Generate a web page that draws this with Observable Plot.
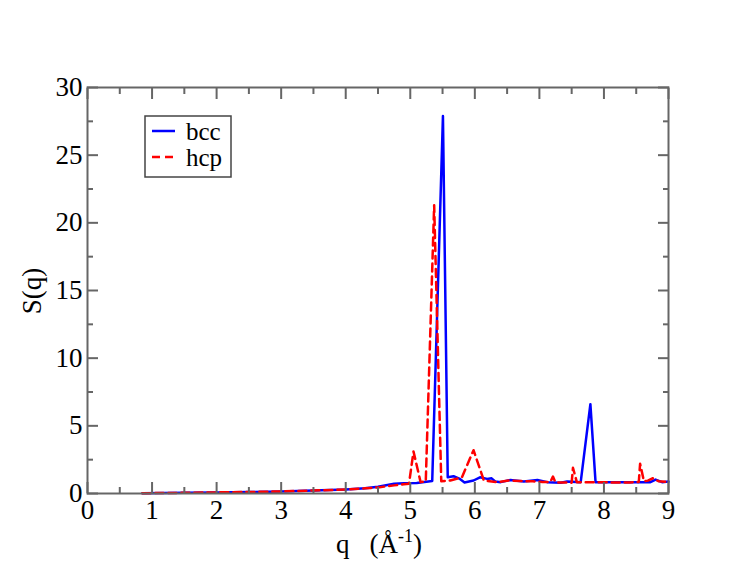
<!DOCTYPE html>
<html>
<head>
<meta charset="utf-8">
<script src="https://cdn.jsdelivr.net/npm/d3@7"></script>
<script src="https://cdn.jsdelivr.net/npm/@observablehq/plot@0.6"></script>
<style>
  html, body { margin: 0; padding: 0; background: white; }
</style>
</head>
<body>
<div id="chart"></div>
<script>
const bccQ = [0.85,1.5,2,2.5,3,3.5,4,4.3,4.5,4.75,4.9,5.1,5.34,5.506,5.58,5.67,5.76,5.84,5.98,6.08,6.19,6.26,6.32,6.4,6.55,6.76,6.97,7.12,7.33,7.43,7.64,7.79,7.87,8.1,8.4,8.72,8.8,8.9,9.0];
const bccS = [0.02,0.05,0.08,0.11,0.15,0.22,0.3,0.38,0.5,0.72,0.75,0.78,0.93,27.9,1.2,1.28,1.1,0.82,0.96,1.2,1.08,1.12,0.88,0.84,1.0,0.88,1.0,0.84,0.79,0.88,0.84,6.6,0.84,0.84,0.84,0.84,1.03,0.84,0.88];

const hcpQ = [0.85,1.5,2,2.5,3,3.5,4,4.3,4.5,4.75,4.9,4.98,5.05,5.16,5.24,5.37,5.48,5.62,5.8,5.98,6.14,6.35,6.52,6.7,6.9,7.05,7.17,7.21,7.25,7.4,7.5,7.52,7.58,7.8,8.1,8.4,8.54,8.56,8.62,8.68,8.76,8.85,9.0];
const hcpS = [0.02,0.05,0.08,0.11,0.15,0.22,0.3,0.38,0.45,0.6,0.68,0.72,3.1,0.84,0.9,21.3,0.9,0.96,1.2,3.2,0.96,0.84,0.96,0.92,0.9,0.85,0.85,1.25,0.82,0.82,0.8,1.9,0.84,0.84,0.82,0.82,0.85,2.2,0.9,0.95,1.13,0.9,0.86];

const xMajor = [0,1,2,3,4,5,6,7,8,9];
const xMinor = [0.5,1.5,2.5,3.5,4.5,5.5,6.5,7.5,8.5];
const yMajor = [0,5,10,15,20,25,30];
const yMinor = [2.5,7.5,12.5,17.5,22.5,27.5];

const seriesNames = ["bcc", "hcp"];
const seriesColors = ["#0000ff", "#ff0000"];

const bcc = bccQ.map((q, i) => ({q, s: bccS[i]}));
const hcp = hcpQ.map((q, i) => ({q, s: hcpS[i]}));

const axisColor = "#666";
const blank = () => "";
const FS = 27;
const font = "Liberation Serif";

const plot = Plot.plot({
  width: 752,
  height: 581,
  marginLeft: 87,
  marginRight: 84,
  marginTop: 87,
  marginBottom: 88,
  style: {fontFamily: font, fontSize: FS + "px", background: "white", color: "black"},
  x: {domain: [0, 9]},
  y: {domain: [0, 30]},
  marks: [
    Plot.line(bcc, {x: "q", y: "s", stroke: seriesColors[0], strokeWidth: 2.5}),
    Plot.line(hcp, {x: "q", y: "s", stroke: seriesColors[1], strokeWidth: 2.5, strokeDasharray: "8,5"}),
    Plot.axisX({anchor: "bottom", ticks: xMajor, tickSize: 11, dy: -11, tickFormat: blank, label: null, stroke: axisColor, strokeWidth: 2}),
    Plot.axisX({anchor: "bottom", ticks: xMinor, tickSize: 6, dy: -6, tickFormat: blank, label: null, stroke: axisColor, strokeWidth: 2}),
    Plot.axisX({anchor: "bottom", ticks: xMajor, tickSize: 0, tickPadding: 6, tickFormat: d => d, label: null, fill: "black", fontSize: FS}),
    Plot.axisX({anchor: "top", ticks: xMajor, tickSize: 11, dy: 11, tickFormat: blank, label: null, stroke: axisColor, strokeWidth: 2}),
    Plot.axisX({anchor: "top", ticks: xMinor, tickSize: 6, dy: 6, tickFormat: blank, label: null, stroke: axisColor, strokeWidth: 2}),
    Plot.axisY({anchor: "left", ticks: yMajor, tickSize: 11, dx: 11, tickFormat: blank, label: null, stroke: axisColor, strokeWidth: 2}),
    Plot.axisY({anchor: "left", ticks: yMinor, tickSize: 6, dx: 6, tickFormat: blank, label: null, stroke: axisColor, strokeWidth: 2}),
    Plot.axisY({anchor: "left", ticks: yMajor, tickSize: 0, tickPadding: 5, tickFormat: d => d, label: null, fill: "black", fontSize: FS}),
    Plot.axisY({anchor: "right", ticks: yMajor, tickSize: 11, dx: -11, tickFormat: blank, label: null, stroke: axisColor, strokeWidth: 2}),
    Plot.axisY({anchor: "right", ticks: yMinor, tickSize: 6, dx: -6, tickFormat: blank, label: null, stroke: axisColor, strokeWidth: 2}),
    Plot.frame({stroke: axisColor, strokeWidth: 2})
  ]
});

document.getElementById("chart").appendChild(plot);

const svg = d3.select(plot);

// x-axis label: q (Å^-1)
const xl = svg.append("text")
  .attr("x", 336).attr("y", 553)
  .attr("text-anchor", "start")
  .attr("font-family", font).attr("font-size", FS).attr("fill", "black");
xl.append("tspan").text("q");
xl.append("tspan").attr("dx", 20).text("(Å");
xl.append("tspan").attr("dy", -11).attr("font-size", 18).text("-1");
xl.append("tspan").attr("dy", 11).text(")");

// y-axis label
svg.append("text")
  .attr("transform", "translate(41,291) rotate(-90)")
  .attr("text-anchor", "middle")
  .attr("font-family", font).attr("font-size", FS).attr("fill", "black")
  .text("S(q)");

// legend
const lg = svg.append("g");
lg.append("rect").attr("x", 145).attr("y", 116).attr("width", 86).attr("height", 61)
  .attr("fill", "white").attr("stroke", "#444").attr("stroke-width", 1.5);
seriesNames.forEach((name, i) => {
  const y = 131 + i * 26;
  lg.append("line").attr("x1", 152).attr("x2", 175).attr("y1", y).attr("y2", y)
    .attr("stroke", seriesColors[i]).attr("stroke-width", 2.5)
    .attr("stroke-dasharray", i === 1 ? "8,5" : null);
  lg.append("text").attr("x", 186).attr("y", y + 9)
    .attr("text-anchor", "start")
    .attr("font-family", font).attr("font-size", 25).attr("fill", "black").text(name);
});
</script>
</body>
</html>
